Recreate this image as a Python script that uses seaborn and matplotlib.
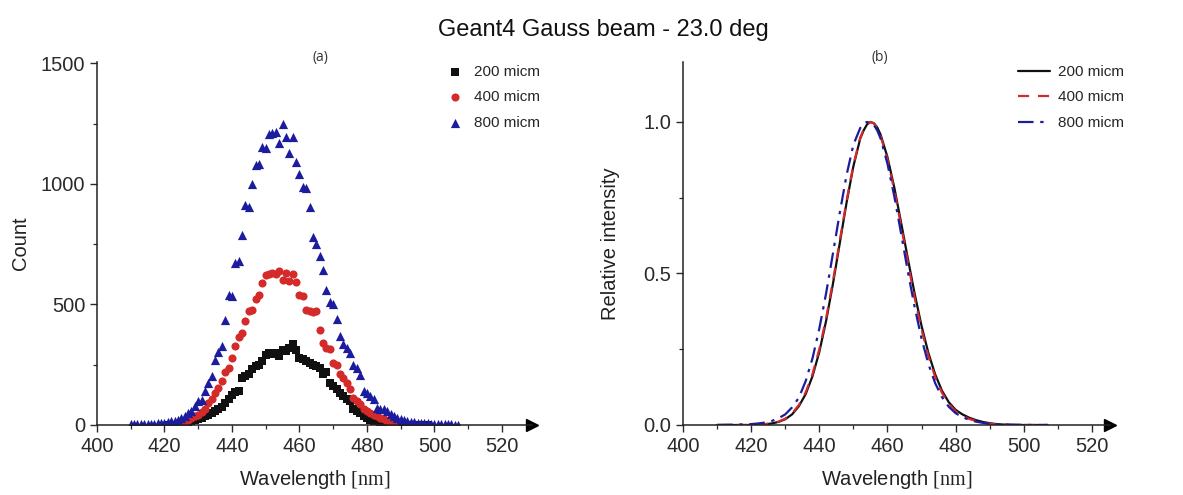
import matplotlib
matplotlib.use("Agg")
import matplotlib.pyplot as plt
import pandas as pd
import seaborn as sns

# --- Panel (a): cuentas por longitud de onda (1 nm por punto) ---
wl_200 = list(range(421, 499))
count_200 = [0, 0, 1, 2, 3, 7, 10, 15, 20, 25,
             30, 37, 41, 51, 58, 68, 76, 90, 106, 123,
             137, 141, 196, 203, 210, 231, 244, 251, 265, 289,
             297, 293, 300, 286, 313, 307, 320, 335, 313, 279,
             272, 265, 258, 251, 244, 238, 210, 220, 175, 162,
             148, 134, 120, 106, 99, 65, 58, 50, 37, 30,
             22, 18, 15, 12, 10, 8, 6, 5, 4, 3,
             3, 2, 2, 1, 1, 1, 0, 0]

wl_400 = list(range(424, 489))
count_400 = [4, 8, 14, 20, 28, 36, 43, 54, 65, 90,
             106, 134, 155, 182, 220, 238, 279, 327, 366, 383,
             431, 472, 479, 523, 541, 590, 621, 627, 632, 625,
             638, 603, 630, 596, 625, 595, 541, 535, 479, 472,
             468, 472, 396, 341, 320, 316, 258, 251, 210, 196,
             175, 148, 113, 99, 86, 68, 58, 48, 40, 36,
             29, 23, 16, 10, 5]

wl_800 = list(range(410, 508))
count_800 = [3, 3, 3, 4, 4, 5, 5, 6, 7, 8,
             10, 12, 15, 18, 22, 28, 38, 50, 60, 78,
             100, 105, 140, 175, 205, 268, 302, 327, 435, 541,
             534, 673, 679, 787, 913, 904, 1000, 1078, 1084, 1155,
             1150, 1209, 1213, 1216, 1169, 1250, 1193, 1128, 1193, 1092,
             1041, 989, 983, 904, 779, 752, 703, 641, 559, 510,
             503, 441, 371, 334, 320, 300, 247, 235, 207, 141,
             134, 120, 106, 72, 68, 65, 58, 45, 38, 30,
             25, 20, 17, 14, 12, 10, 9, 8, 7, 6,
             5, 4, 4, 3, 3, 3, 2, 2]

# --- Panel (b): intensidad relativa ---
wl_rel = [410, 414, 418, 420, 422, 424, 426, 428, 430, 432,
          434, 436, 438, 440, 442, 444, 446, 448, 450, 452,
          453, 454, 455, 456, 457, 458, 460, 462, 464, 466,
          468, 470, 472, 474, 476, 478, 480, 482, 484, 486,
          488, 490, 492, 494, 496, 498, 502, 507]
rel_200 = [0, 0, 0, 0, 0.001, 0.002, 0.005, 0.010, 0.019, 0.035,
           0.062, 0.102, 0.161, 0.241, 0.344, 0.466, 0.600, 0.734, 0.854, 0.945,
           0.972, 0.992, 1.000, 0.996, 0.982, 0.958, 0.884, 0.784, 0.668, 0.548,
           0.432, 0.327, 0.238, 0.167, 0.113, 0.075, 0.050, 0.035, 0.024, 0.016,
           0.010, 0.006, 0.003, 0.0015, 0.0005, 0, 0, 0]
rel_400 = [0, 0, 0, 0, 0.001, 0.003, 0.006, 0.011, 0.021, 0.038,
           0.066, 0.108, 0.168, 0.250, 0.352, 0.475, 0.608, 0.740, 0.858, 0.948,
           0.975, 0.993, 1.000, 0.995, 0.980, 0.953, 0.876, 0.775, 0.657, 0.535,
           0.418, 0.315, 0.228, 0.158, 0.106, 0.070, 0.045, 0.030, 0.020, 0.013,
           0.008, 0.004, 0.002, 0.001, 0, 0, 0, 0]
rel_800 = [0.000, 0.001, 0.002, 0.003, 0.005, 0.008, 0.013, 0.022, 0.035, 0.058,
           0.090, 0.145, 0.220, 0.318, 0.435, 0.566, 0.700, 0.825, 0.925, 0.980,
           0.995, 1.000, 0.998, 0.990, 0.972, 0.945, 0.862, 0.755, 0.632, 0.505,
           0.388, 0.285, 0.202, 0.138, 0.092, 0.060, 0.039, 0.026, 0.017, 0.011,
           0.007, 0.004, 0.003, 0.002, 0.001, 0.001, 0.0, 0.0]

labels = ["200 micm", "400 micm", "800 micm"]
colors = {"200 micm": "#111111", "400 micm": "#d42a2a", "800 micm": "#1c1c9e"}
markers = {"200 micm": "s", "400 micm": "o", "800 micm": "^"}
msizes = {"200 micm": 26, "400 micm": 34, "800 micm": 44}
dashes = {"200 micm": "-", "400 micm": (0, (5, 4)), "800 micm": (0, (7, 3, 1.5, 3))}

df_a = pd.concat([
    pd.DataFrame({"wl": wl_200, "val": count_200, "grp": labels[0]}),
    pd.DataFrame({"wl": wl_400, "val": count_400, "grp": labels[1]}),
    pd.DataFrame({"wl": wl_800, "val": count_800, "grp": labels[2]}),
])
df_b = pd.concat([
    pd.DataFrame({"wl": wl_rel, "val": rel_200, "grp": labels[0]}),
    pd.DataFrame({"wl": wl_rel, "val": rel_400, "grp": labels[1]}),
    pd.DataFrame({"wl": wl_rel, "val": rel_800, "grp": labels[2]}),
])

sns.set_theme(style="ticks")
plt.rcParams["font.family"] = ["Liberation Sans", "DejaVu Sans"]
plt.rcParams["mathtext.fontset"] = "custom"
plt.rcParams["mathtext.rm"] = "Liberation Serif"

W, H = 1183, 495
fig = plt.figure(figsize=(W / 100, H / 100), dpi=100)
# ejes: 400 nm en x=97 / x=683 px, 0 en y=425 px
ax_a = fig.add_axes([97 / W, 1 - 425 / H, 435 / W, 363 / H])
ax_b = fig.add_axes([683 / W, 1 - 425 / H, 427 / W, 363 / H])

for g in labels:
    sns.scatterplot(data=df_a[df_a.grp == g], x="wl", y="val", ax=ax_a,
                    marker=markers[g], color=colors[g], s=msizes[g],
                    linewidth=0, label=g)
    sns.lineplot(data=df_b[df_b.grp == g], x="wl", y="val", ax=ax_b,
                 color=colors[g], linewidth=1.6, linestyle=dashes[g], label=g)

tick_col = "#2a2a2a"
for ax in (ax_a, ax_b):
    sns.despine(ax=ax)
    for sp in ("left", "bottom"):
        ax.spines[sp].set_linewidth(1.1)
        ax.spines[sp].set_color("#222222")
    ax.set_xticks(range(400, 521, 20))
    ax.set_xticks(range(410, 521, 20), minor=True)
    ax.tick_params(axis="both", which="major", length=5, width=1.0,
                   labelsize=14.5, colors=tick_col, direction="out")
    ax.tick_params(axis="both", which="minor", length=3, width=0.9,
                   colors=tick_col, direction="out")
    ax.plot(1, 0, ">", color="black", ms=8, transform=ax.get_yaxis_transform(), clip_on=False)
    ax.plot(0, 1, "^", color="black", ms=8, transform=ax.get_xaxis_transform(), clip_on=False)
    ax.set_xlabel(r"Wavelength $[\mathrm{nm}]$", fontsize=14.5, color="#222222", labelpad=9)

ax_a.set_xlim(400, 528.9)
ax_a.set_ylim(0, 1506)
ax_a.set_yticks([0, 500, 1000, 1500])
ax_a.set_yticks([250, 750, 1250], minor=True)
ax_a.set_ylabel("Count", fontsize=14.5, color="#222222", labelpad=8)

ax_b.set_xlim(400, 525.3)
ax_b.set_ylim(0, 1.198)
ax_b.set_yticks([0, 0.5, 1.0])
ax_b.set_yticklabels(["0.0", "0.5", "1.0"])
ax_b.set_yticks([0.25, 0.75], minor=True)
ax_b.set_ylabel("Relative intensity", fontsize=14.5, color="#222222", labelpad=17)

ax_a.legend(loc="upper left", bbox_to_anchor=(447 / W, 1 - 65 / H), bbox_transform=fig.transFigure,
            frameon=False, fontsize=11, handlelength=1.0, handletextpad=0.8,
            labelspacing=0.75, borderpad=0, borderaxespad=0)
ax_b.legend(loc="upper left", bbox_to_anchor=(1018 / W, 1 - 65 / H), bbox_transform=fig.transFigure,
            frameon=False, fontsize=11, handlelength=2.1, handletextpad=0.5,
            labelspacing=0.75, borderpad=0, borderaxespad=0)

fig.text(320 / W, 1 - 57 / H, "(a)", ha="center", va="center", fontsize=10,
         family=["Open Sans", "DejaVu Sans"], color="#333333")
fig.text(880 / W, 1 - 57 / H, "(b)", ha="center", va="center", fontsize=10,
         family=["Open Sans", "DejaVu Sans"], color="#333333")
fig.text(603 / W, 1 - 30 / H, "Geant4 Gauss beam - 23.0 deg", ha="center", va="center",
         fontsize=17, color="#111111")

fig.savefig("out.png", dpi=100)
